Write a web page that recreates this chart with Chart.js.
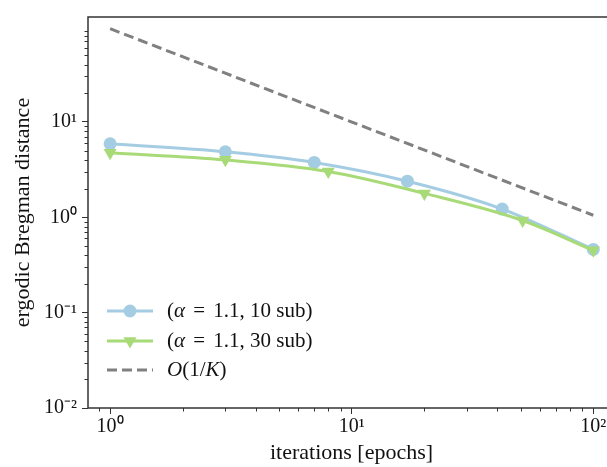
<!DOCTYPE html>
<html>
<head>
<meta charset="utf-8">
<script src="https://cdn.jsdelivr.net/npm/chart.js@4.4.1/dist/chart.umd.min.js"></script>
<style>
  html, body { margin: 0; padding: 0; background: #fff; overflow: hidden; }
  #wrap { position: absolute; left: 0; top: 0; width: 640px; height: 467px; }
  canvas { display: block; }
</style>
</head>
<body>
<div id="wrap"><canvas id="c" width="640" height="467"></canvas></div>
<script>
// ---- data ----
const seriesLabels = ['(α = 1.1, 10 sub)', '(α = 1.1, 30 sub)', 'O(1/K)'];
const blueEpochs = [1, 3, 7, 17, 42, 100];
const blueValues = [5.9, 4.87, 3.76, 2.39, 1.22, 0.46];
const greenEpochs = [1, 3, 8, 20, 51, 100];
const greenValues = [4.75, 4.0, 3.02, 1.78, 0.925, 0.45];
const refEpochs = [1, 100];
const refValues = [95, 1.05];

// ---- axis ticks ----
const yMajorTicks = [0.01, 0.1, 1, 10];
const yTickLabels = ['10\u207B\u00B2', '10\u207B\u00B9', '10\u2070', '10\u00B9'];
const xMajorTicks = [1, 10, 100];
const xTickLabels = ['10\u2070', '10\u00B9', '10\u00B2'];
const xTitle = 'iterations [epochs]';
const yTitle = 'ergodic Bregman distance';

const FONT = '"Liberation Serif", "Times New Roman", serif';
const BLUE = '#a4cde3';
const GREEN = '#a8da78';
const GRAY = '#808080';
const AXIS = '#333333';

function pts(xs, ys) { return xs.map((x, i) => ({ x: x, y: ys[i] })); }

function minorTicks(min, max) {
  const out = [];
  for (let e = -3; e <= 3; e++) {
    for (let k = 2; k <= 9; k++) {
      const v = k * Math.pow(10, e);
      if (v > min && v < max) out.push(v);
    }
  }
  return out;
}

const Y_MIN = 0.01, Y_MAX = 126;
const X_MIN = 0.81, X_MAX = 123;

const framePlugin = {
  id: 'frameAndMinor',
  afterDraw(chart) {
    const ctx = chart.ctx;
    const a = chart.chartArea;
    const xs = chart.scales.x, ys = chart.scales.y;
    ctx.save();
    ctx.strokeStyle = AXIS;
    ctx.lineWidth = 1;
    minorTicks(Y_MIN, Y_MAX).forEach(v => {
      const p = Math.round(ys.getPixelForValue(v)) + 0.5;
      ctx.beginPath(); ctx.moveTo(a.left - 3.5, p); ctx.lineTo(a.left, p); ctx.stroke();
    });
    minorTicks(X_MIN, X_MAX).forEach(v => {
      const p = Math.round(xs.getPixelForValue(v)) + 0.5;
      ctx.beginPath(); ctx.moveTo(p, a.bottom); ctx.lineTo(p, a.bottom + 3.5); ctx.stroke();
    });
    ctx.lineWidth = 1.5;
    ctx.strokeRect(a.left, a.top, a.right - a.left, a.bottom - a.top);
    ctx.restore();
  }
};

const italicChars = new Set(['α', 'O', 'K']);
function drawRich(ctx, text, x, y, size) {
  const chars = Array.from(text);
  let cx = x;
  chars.forEach((ch, i) => {
    const it = italicChars.has(ch);
    ctx.font = (it ? 'italic ' : '') + size + 'px ' + FONT;
    ctx.fillText(ch, cx, y);
    let w = ctx.measureText(ch).width;
    // math-style spacing around "="
    if (ch === ' ' && (chars[i + 1] === '=' || chars[i - 1] === '=')) w += 3;
    cx += w;
  });
}

const legendPlugin = {
  id: 'insideLegend',
  afterDraw(chart) {
    const ctx = chart.ctx;
    const a = chart.chartArea;
    const x0 = a.left + 19, x1 = a.left + 65, xm = (x0 + x1) / 2;
    const rows = [a.bottom - 97, a.bottom - 67, a.bottom - 38];
    ctx.save();
    chart.data.datasets.forEach((ds, i) => {
      const y = rows[i];
      ctx.strokeStyle = ds.borderColor;
      ctx.lineWidth = ds.borderWidth;
      ctx.setLineDash(ds.borderDash || []);
      ctx.beginPath(); ctx.moveTo(x0, y); ctx.lineTo(x1, y); ctx.stroke();
      ctx.setLineDash([]);
      if (ds.pointRadius > 0) {
        ctx.fillStyle = ds.pointBackgroundColor;
        ctx.beginPath();
        const r = ds.pointRadius;
        if (ds.pointStyle === 'circle') {
          ctx.arc(xm, y, r, 0, Math.PI * 2);
        } else {
          const s = r * 3 / Math.sqrt(3);
          const h = s * Math.sqrt(3) / 2;
          ctx.moveTo(xm - s / 2, y - h / 3);
          ctx.lineTo(xm + s / 2, y - h / 3);
          ctx.lineTo(xm, y + 2 * h / 3);
          ctx.closePath();
        }
        ctx.fill();
      }
      ctx.fillStyle = '#111';
      ctx.textBaseline = 'middle';
      ctx.textAlign = 'left';
      drawRich(ctx, ds.label, a.left + 79, y, 21);
    });
    ctx.restore();
  }
};

new Chart(document.getElementById('c'), {
  type: 'line',
  data: {
    datasets: [
      {
        label: seriesLabels[0], data: pts(blueEpochs, blueValues),
        borderColor: BLUE, backgroundColor: BLUE, borderWidth: 3,
        pointStyle: 'circle', pointRadius: 6.5, pointBackgroundColor: BLUE,
        pointBorderWidth: 0, pointBorderColor: BLUE, pointHoverRadius: 6.5,
        cubicInterpolationMode: 'monotone', tension: 0.4, order: 2, fill: false
      },
      {
        label: seriesLabels[1], data: pts(greenEpochs, greenValues),
        borderColor: GREEN, backgroundColor: GREEN, borderWidth: 3,
        pointStyle: 'triangle', pointRotation: 180, pointRadius: 7.5, pointBackgroundColor: GREEN,
        pointBorderWidth: 0, pointBorderColor: GREEN, pointHoverRadius: 7.5,
        cubicInterpolationMode: 'monotone', tension: 0.4, order: 1, fill: false
      },
      {
        label: seriesLabels[2], data: pts(refEpochs, refValues),
        borderColor: GRAY, backgroundColor: GRAY, borderWidth: 3, borderDash: [10, 5],
        pointRadius: 0, pointHoverRadius: 0, tension: 0, order: 0, fill: false
      }
    ]
  },
  options: {
    responsive: false,
    animation: false,
    events: [],
    layout: { padding: { top: 11, right: 25, left: 0, bottom: 0 } },
    plugins: { legend: { display: false }, tooltip: { enabled: false } },
    scales: {
      x: {
        type: 'logarithmic', min: X_MIN, max: X_MAX,
        border: { display: false },
        grid: { display: true, drawOnChartArea: false, drawTicks: true, tickLength: 6, tickColor: AXIS, tickWidth: 1 },
        afterBuildTicks: s => { s.ticks = xMajorTicks.map(v => ({ value: v, major: true })); },
        afterFit: s => { s.height = 59; },
        ticks: {
          autoSkip: false, maxRotation: 0, minRotation: 0, padding: 1, color: '#111',
          font: { family: FONT, size: 20 },
          callback: (v, i) => xTickLabels[i]
        },
        title: { display: true, text: xTitle, color: '#111', font: { family: FONT, size: 22 }, padding: { top: 0, bottom: 1 } }
      },
      y: {
        type: 'logarithmic', min: Y_MIN, max: Y_MAX,
        border: { display: false },
        grid: { display: true, drawOnChartArea: false, drawTicks: true, tickLength: 6, tickColor: AXIS, tickWidth: 1 },
        afterBuildTicks: s => { s.ticks = yMajorTicks.map(v => ({ value: v, major: true })); },
        afterFit: s => { s.width = 88; },
        ticks: {
          autoSkip: false, padding: 5, color: '#111',
          font: { family: FONT, size: 20 },
          callback: (v, i) => yTickLabels[i]
        },
        title: { display: true, text: yTitle, color: '#111', font: { family: FONT, size: 22 }, padding: { top: 10, bottom: 0 } }
      }
    }
  },
  plugins: [framePlugin, legendPlugin]
});
</script>
</body>
</html>
